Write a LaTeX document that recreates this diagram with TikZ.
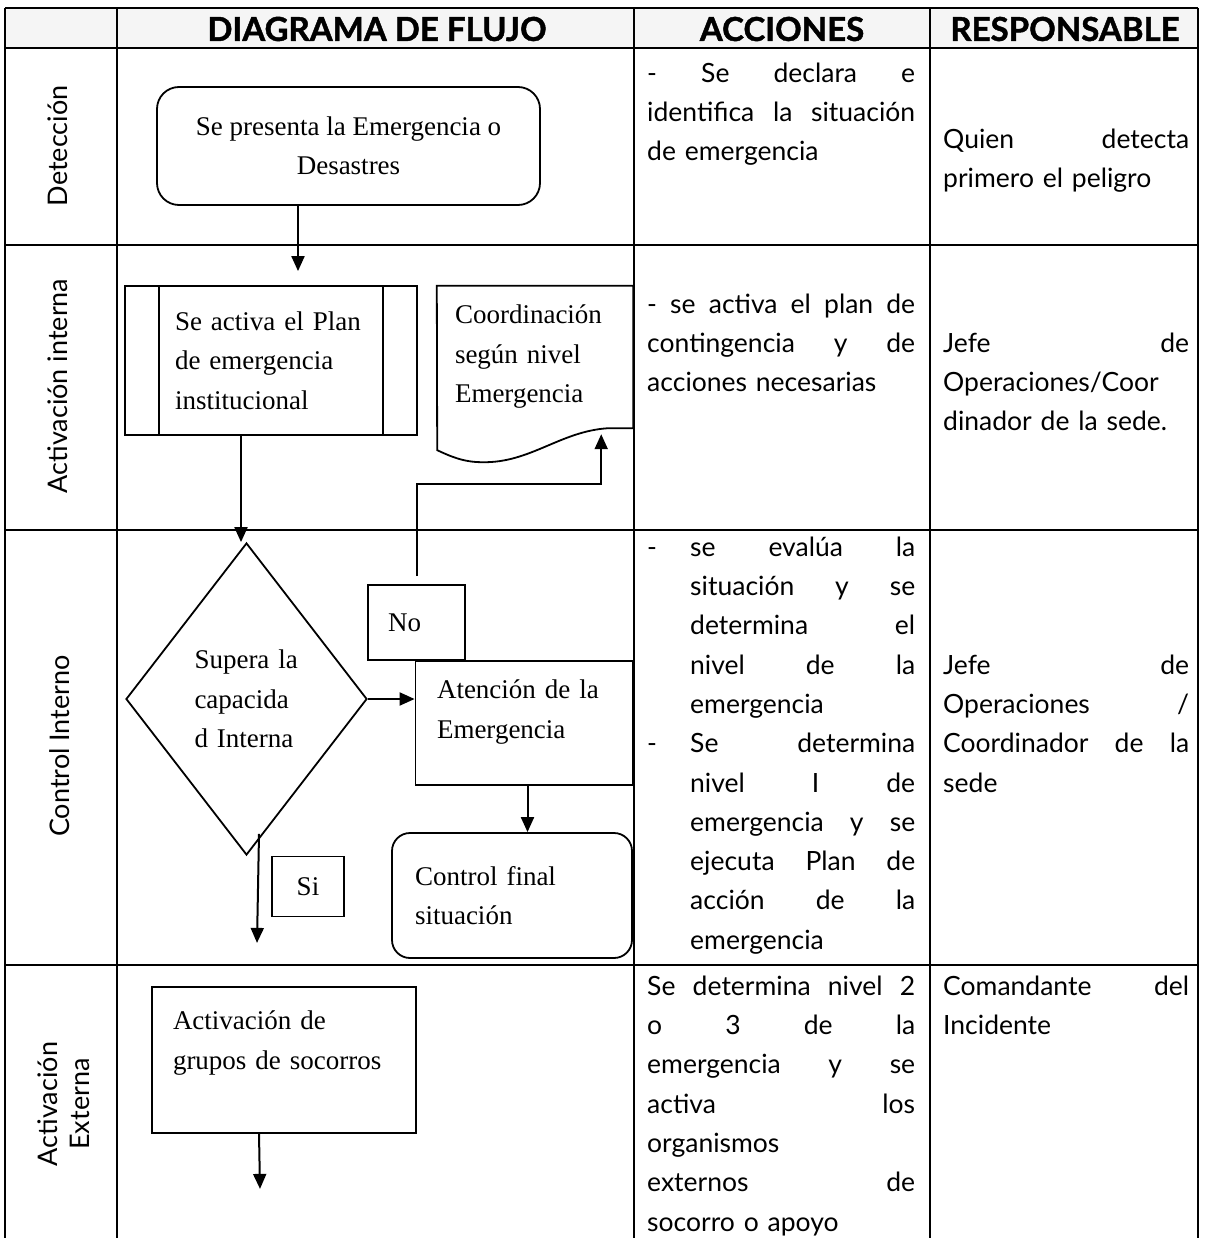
\documentclass[tikz,border=0pt]{standalone}
\usepackage{fontspec}
\setmainfont{Liberation Serif}
\newfontfamily\gill{Lato}[BoldFeatures={FakeBold=1.3}]
\usetikzlibrary{arrows.meta,shapes.geometric}
\newcommand\jl[2]{\makebox[#1][s]{\spaceskip=0.25em plus 1fil\xspaceskip=0.25em plus 1fil\relax #2}}
\begin{document}
\begin{tikzpicture}[x=1pt,y=-1pt,
  tbl/.style={line width=2.4pt},
  shp/.style={draw, line width=1.8pt, inner sep=0pt, font=\fontsize{27}{39.5}\selectfont},
  arr/.style={line width=2pt, -{Triangle[width=13pt,length=15pt]}},
  txt/.style={font=\gill\fontsize{26.5}{39.3}\selectfont, anchor=north west, inner sep=0pt, align=left},
  hdr/.style={font=\gill\bfseries\fontsize{33}{36}\selectfont, inner sep=0pt},
  lbl/.style={font=\gill\fontsize{27}{32}\selectfont, inner sep=0pt, rotate=90, align=center}]
\useasboundingbox (0,0) rectangle (1204,1238);
% table
\fill[gray!8] (5,8) rectangle (1198,48);
\foreach \yy in {8,48,245,530,965} \draw[tbl] (5,\yy) -- (1198,\yy);
\foreach \xx in {5,117,634,930,1198} \draw[tbl] (\xx,8) -- (\xx,1238);
% headers
\node[hdr] (h1) at (377,29) {DIAGRAMA DE FLUJO};
\node[hdr] (h2) at (782,29) {ACCIONES};
\node[hdr] (h3) at (1065,29) {RESPONSABLE};
% row labels
\node[lbl] (l1) at (58,146) {Detección};
\node[lbl] (l2) at (58,386) {Activación interna};
\node[lbl] (l3) at (60,746) {Control Interno};
\node[lbl] (l4) at (64,1104) {Activación\\Externa};
% flowchart
\node[shp, rounded corners=22pt, minimum width=383pt, minimum height=118pt, align=center] (det) at (348.5,146) {Se presenta la Emergencia o\\Desastres};
\node[shp, minimum width=292pt, minimum height=149pt, text width=192pt, align=left] (plan) at (271,360.5) {Se activa el Plan\\de emergencia\\institucional};
\draw[line width=1.8pt] ([xshift=35]plan.north west) -- ([xshift=35]plan.south west);
\draw[line width=1.8pt] ([xshift=-35]plan.north east) -- ([xshift=-35]plan.south east);
\node[inner sep=0pt, minimum width=196pt, minimum height=142pt, text width=160pt, align=left, font=\fontsize{27}{39.5}\selectfont] (doc) at (535,357) {Coordinación\\según nivel\\Emergencia};
\draw[line width=1.8pt] (doc.north west) -- (doc.north east) -- (doc.south east) -- ([shift={(-25,0)}]doc.south east)
  .. controls ([shift={(-73,3)}]doc.south east) and ([shift={(-103,35)}]doc.south east) .. ([shift={(-151,34)}]doc.south east)
  .. controls ([shift={(-170,34)}]doc.south east) and ([shift={(-183,28)}]doc.south east) .. ([shift={(-196,22)}]doc.south east)
  -- cycle;
\coordinate (doctip) at ([shift={(-32,6)}]doc.south east);
\node[shp, diamond, minimum width=241pt, minimum height=312pt, text width=104pt, align=left] (dia) at (246.5,699) {Supera la\\capacida\\d Interna};
\node[shp, minimum width=97pt, minimum height=75pt, text width=57pt, align=left] (no) at (416.5,622.5) {No};
\node[shp, minimum width=217pt, minimum height=124pt, text width=174pt, align=left] (aten) at (524,723) {Atención de la\\Emergencia\\[-12pt]\mbox{}};
\node[shp, rounded corners=18pt, minimum width=240pt, minimum height=125pt, text width=194pt, align=left] (ctrl) at (512,895.5) {Control final\\situación};
\node[shp, minimum width=72pt, minimum height=60pt] (si) at (308,886.5) {Si};
\node[shp, minimum width=264pt, minimum height=146pt, text width=222pt, align=left] (grp) at (284,1060) {Activación de\\grupos de socorros\\\mbox{}};
% connectors
\draw[arr] ([xshift=-50.5]det.south) -- ([shift={(27,-14)}]plan.north);
\draw[arr] ([xshift=-30]plan.south) -- ([xshift=-30]plan.south |- dia.north);
\draw[arr] ([yshift=8]no.north) -- ++(0,-92) -| (doctip);
\draw[arr] (dia.east) -- (dia.east -| aten.west);
\draw[arr] ([xshift=3.5]aten.south) -- ([xshift=3.5]aten.south |- ctrl.north);
\draw[arr] ([shift={(12.5,-22)}]dia.south) -- ([shift={(10.5,87)}]dia.south);
\draw[arr] ([xshift=-25]grp.south) -- ([shift={(-24,55)}]grp.south);
% actions column
\node[txt, text width=268pt] (a1) at (647,54.5) {\strut\jl{268pt}{- Se declara e}\\\jl{268pt}{identifica la situación}\\de emergencia};
\node[txt, text width=268pt] (a2) at (647,285.5) {\strut\jl{268pt}{- se activa el plan de}\\\jl{268pt}{contingencia y de}\\acciones necesarias};
\node[txt, text width=268pt] (a3) at (647,528.5) {\strut\makebox[43pt][l]{-}\jl{225pt}{se evalúa la}\\
\hspace*{43pt}\jl{225pt}{situación y se}\\
\hspace*{43pt}\jl{225pt}{determina el}\\
\hspace*{43pt}\jl{225pt}{nivel de la}\\
\hspace*{43pt}emergencia\\
\makebox[43pt][l]{-}\jl{225pt}{Se determina}\\
\hspace*{43pt}\jl{225pt}{nivel I de}\\
\hspace*{43pt}\jl{225pt}{emergencia y se}\\
\hspace*{43pt}\jl{225pt}{ejecuta Plan de}\\
\hspace*{43pt}\jl{225pt}{acción de la}\\
\hspace*{43pt}emergencia};
\node[txt, text width=268pt] (a4) at (647,967.5) {\strut\jl{268pt}{Se determina nivel 2}\\
\jl{268pt}{o 3 de la}\\
\jl{268pt}{emergencia y se}\\
\jl{268pt}{activa los}\\
organismos\\
\jl{268pt}{externos de}\\
socorro o apoyo};
% responsible column
\node[txt, text width=246pt] (r1) at (943,120.5) {\strut\jl{246pt}{Quien detecta}\\primero el peligro};
\node[txt, text width=246pt] (r2) at (943,324.5) {\strut\jl{246pt}{Jefe de}\\Operaciones/Coor\\dinador de la sede.};
\node[txt, text width=246pt] (r3) at (943,646.5) {\strut\jl{246pt}{Jefe de}\\\jl{246pt}{Operaciones /}\\\jl{246pt}{Coordinador de la}\\sede};
\node[txt, text width=246pt] (r4) at (943,967.5) {\strut\jl{246pt}{Comandante del}\\Incidente};
\end{tikzpicture}
\end{document}
